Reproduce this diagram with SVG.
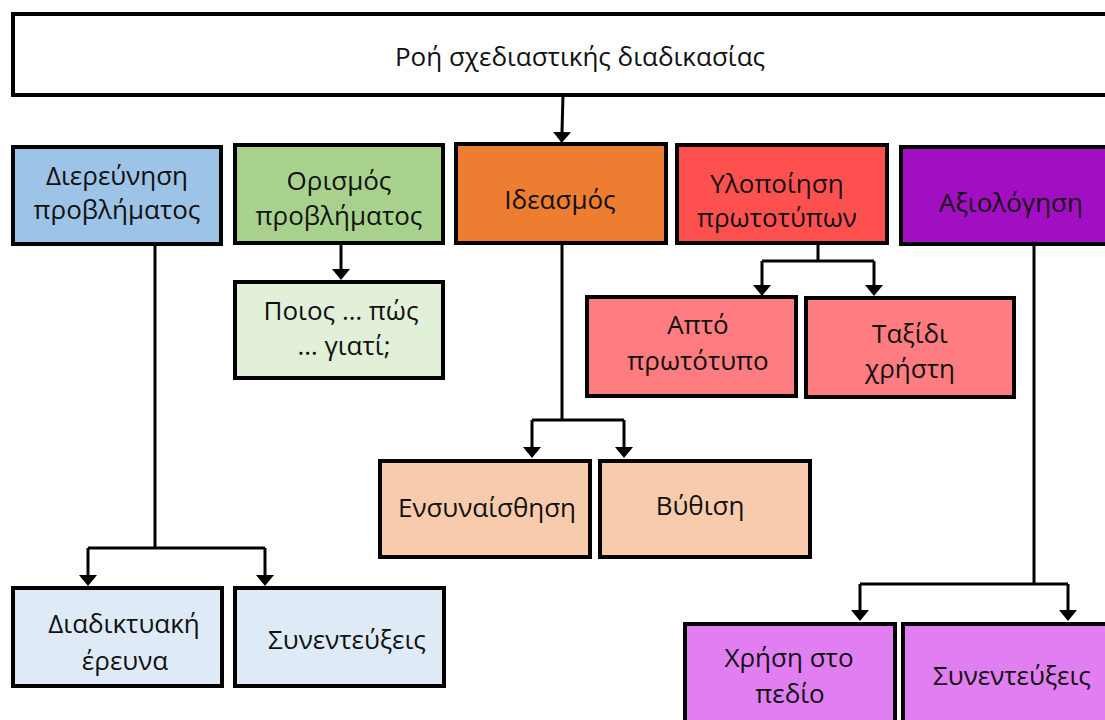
<svg xmlns="http://www.w3.org/2000/svg" width="1105" height="720" viewBox="0 0 1105 720">
<style>
.box{stroke:#000;stroke-width:4}
.t{font-family:"Open Sans","Noto Sans","DejaVu Sans",sans-serif;font-size:26px;fill:#111;text-anchor:middle}
.c{fill:none;stroke:#000;stroke-width:3;marker-end:url(#ah)}
.cn{fill:none;stroke:#000;stroke-width:3}
</style>
<defs>
<marker id="ah" viewBox="0 0 11 18" markerWidth="11" markerHeight="18" refX="0" refY="9" orient="auto" markerUnits="userSpaceOnUse">
<path d="M0,0 L11,9 L0,18 z" fill="#000"/>
</marker>
</defs>
<rect width="1105" height="720" fill="#fff"/>
<g id="connectors">
<path class="c" d="M563,95 L562,132"/>
<path class="cn" d="M155,245 L155,548"/>
<path class="cn" d="M88,548 L265,548"/>
<path class="c" d="M88,548 L88,575"/>
<path class="c" d="M265,548 L265,575"/>
<path class="c" d="M341,243 L341,269"/>
<path class="cn" d="M562,243 L562,420"/>
<path class="cn" d="M532,420 L624,420"/>
<path class="c" d="M532,420 L532,447"/>
<path class="c" d="M624,420 L624,447"/>
<path class="cn" d="M818,243 L818,261"/>
<path class="cn" d="M762,261 L874,261"/>
<path class="c" d="M762,261 L762,285"/>
<path class="c" d="M874,261 L874,285"/>
<path class="cn" d="M1034,245 L1034,584"/>
<path class="cn" d="M860,584 L1068,584"/>
<path class="c" d="M860,584 L860,610"/>
<path class="c" d="M1068,584 L1068,610"/>
</g>
<g id="title">
<rect class="box" x="13" y="14" width="1100" height="81" fill="#fff"/>
<text class="t" x="580" y="66">Ροή σχεδιαστικής διαδικασίας</text>
</g>
<g id="n-dierevnisi">
<rect class="box" x="13" y="147" width="208" height="97" fill="#9DC3E6"/>
<text class="t" x="117" y="185">Διερεύνηση</text>
<text class="t" x="117" y="219">προβλήματος</text>
</g>
<g id="n-orismos">
<rect class="box" x="235" y="145" width="208" height="98" fill="#A9D18E"/>
<text class="t" x="339" y="190">Ορισμός</text>
<text class="t" x="339" y="225">προβλήματος</text>
</g>
<g id="n-ideasmos">
<rect class="box" x="456" y="144" width="210" height="99" fill="#ED7D31"/>
<text class="t" x="560" y="209">Ιδεασμός</text>
</g>
<g id="n-ylopoiisi">
<rect class="box" x="677" y="145" width="210" height="98" fill="#FF5050"/>
<text class="t" x="777" y="193">Υλοποίηση</text>
<text class="t" x="777" y="227">πρωτοτύπων</text>
</g>
<g id="n-axiologisi">
<rect class="box" x="901" y="147" width="220" height="97" fill="#A20FC2"/>
<text class="t" x="1011" y="212">Αξιολόγηση</text>
</g>
<g id="n-poios">
<rect class="box" x="235" y="282" width="208" height="96" fill="#E2F0D9"/>
<text class="t" x="341" y="320">Ποιος … πώς</text>
<text class="t" x="344" y="355">… γιατί;</text>
</g>
<g id="n-apo">
<rect class="box" x="587" y="297" width="209" height="99" fill="#FF7C80"/>
<text class="t" x="698" y="334">Απτό</text>
<text class="t" x="698" y="370">πρωτότυπο</text>
</g>
<g id="n-taxidi">
<rect class="box" x="806" y="298" width="208" height="99" fill="#FF7C80"/>
<text class="t" x="910" y="343">Ταξίδι</text>
<text class="t" x="910" y="378">χρήστη</text>
</g>
<g id="n-ensynaisthisi">
<rect class="box" x="380" y="461" width="210" height="96" fill="#F8CBAD"/>
<text class="t" x="487" y="517">Ενσυναίσθηση</text>
</g>
<g id="n-vythisi">
<rect class="box" x="600" y="461" width="210" height="96" fill="#F8CBAD"/>
<text class="t" x="700" y="515">Βύθιση</text>
</g>
<g id="n-diadiktyaki">
<rect class="box" x="13" y="588" width="209" height="98" fill="#DEEBF7"/>
<text class="t" x="124" y="633">Διαδικτυακή</text>
<text class="t" x="125" y="670">έρευνα</text>
</g>
<g id="n-synentefxeis1">
<rect class="box" x="235" y="588" width="209" height="98" fill="#DEEBF7"/>
<text class="t" x="347" y="649">Συνεντεύξεις</text>
</g>
<g id="n-xrisi">
<rect class="box" x="685" y="624" width="210" height="110" fill="#E07EF2"/>
<text class="t" x="789" y="667">Χρήση στο</text>
<text class="t" x="790" y="703">πεδίο</text>
</g>
<g id="n-synentefxeis2">
<rect class="box" x="903" y="624" width="220" height="110" fill="#E07EF2"/>
<text class="t" x="1012" y="685">Συνεντεύξεις</text>
</g>
</svg>
